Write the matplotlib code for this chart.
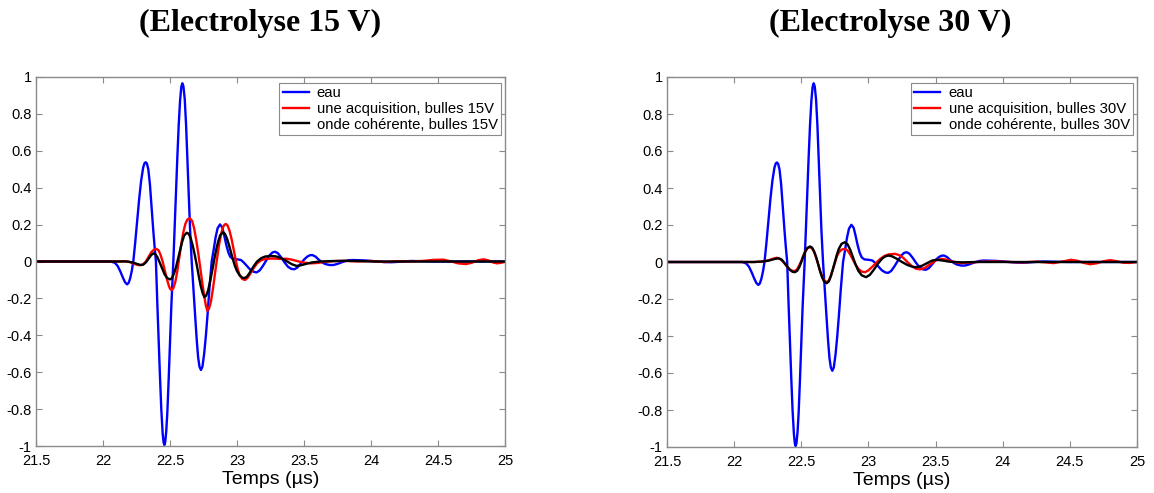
import matplotlib
matplotlib.use("Agg")
import matplotlib.pyplot as plt

# ---------------- data ----------------
# water reference signal (same in both panels)
t_eau = [21.50, 22.00, 22.06, 22.09, 22.11, 22.13, 22.15, 22.165, 22.18, 22.192,
         22.203, 22.215, 22.226, 22.24, 22.255, 22.27, 22.285, 22.30, 22.31, 22.319,
         22.328, 22.338, 22.35, 22.362, 22.375, 22.385, 22.395, 22.405, 22.415, 22.425,
         22.435, 22.445, 22.452, 22.458, 22.464, 22.472, 22.48, 22.49, 22.50, 22.51,
         22.525, 22.535, 22.545, 22.555, 22.565, 22.575, 22.584, 22.592, 22.60, 22.61,
         22.62, 22.63, 22.64, 22.65, 22.662, 22.675, 22.69, 22.70, 22.71, 22.72,
         22.731, 22.742, 22.755, 22.768, 22.78, 22.795, 22.811, 22.825, 22.84, 22.855,
         22.873, 22.89, 22.905, 22.92, 22.935, 22.95, 22.97, 23.00, 23.03, 23.05,
         23.075, 23.10, 23.125, 23.147, 23.17, 23.195, 23.22, 23.245, 23.265, 23.284,
         23.305, 23.33, 23.355, 23.38, 23.405, 23.428, 23.45, 23.475, 23.50, 23.525,
         23.545, 23.562, 23.585, 23.61, 23.635, 23.66, 23.69, 23.72, 23.75, 23.79,
         23.83, 23.86, 23.90, 23.95, 24.00, 24.05, 24.10, 24.15, 24.20, 24.30,
         24.40, 24.50, 25.00]
v_eau = [0.0, 0.0, 0.0, -0.008, -0.025, -0.055, -0.09, -0.113, -0.124, -0.115,
         -0.09, -0.05, 0.0, 0.10, 0.22, 0.34, 0.44, 0.51, 0.533, 0.538,
         0.53, 0.50, 0.42, 0.30, 0.17, 0.08, 0.0, -0.22, -0.42, -0.62,
         -0.80, -0.93, -0.98, -0.995, -0.98, -0.92, -0.82, -0.64, -0.44, -0.24,
         0.0, 0.19, 0.38, 0.57, 0.74, 0.87, 0.945, 0.966, 0.95, 0.88,
         0.74, 0.55, 0.36, 0.17, 0.0, -0.15, -0.32, -0.43, -0.52, -0.57,
         -0.588, -0.57, -0.50, -0.40, -0.29, -0.14, 0.0, 0.06, 0.13, 0.18,
         0.201, 0.185, 0.14, 0.09, 0.05, 0.025, 0.014, 0.012, 0.008, -0.005,
         -0.025, -0.045, -0.056, -0.059, -0.048, -0.022, 0.008, 0.035, 0.049, 0.053,
         0.045, 0.022, -0.005, -0.028, -0.04, -0.042, -0.033, -0.012, 0.01, 0.027,
         0.034, 0.035, 0.027, 0.01, -0.005, -0.014, -0.019, -0.019, -0.013, -0.002,
         0.006, 0.008, 0.007, 0.006, 0.003, 0.0, -0.003, -0.004, -0.002, 0.003,
         0.001, 0.0, 0.0]

# 15 V : single acquisition
t_acq15 = [21.50, 22.10, 22.16, 22.20, 22.23, 22.26, 22.28, 22.30, 22.32, 22.34,
           22.36, 22.38, 22.40, 22.415, 22.43, 22.445, 22.46, 22.475, 22.49, 22.50,
           22.513, 22.525, 22.54, 22.555, 22.57, 22.585, 22.60, 22.615, 22.63, 22.649,
           22.665, 22.68, 22.695, 22.71, 22.725, 22.74, 22.755, 22.768, 22.779, 22.79,
           22.805, 22.82, 22.835, 22.85, 22.865, 22.88, 22.895, 22.907, 22.918, 22.93,
           22.945, 22.96, 22.975, 22.99, 23.005, 23.02, 23.04, 23.06, 23.08, 23.10,
           23.125, 23.15, 23.18, 23.22, 23.27, 23.32, 23.37, 23.41, 23.45, 23.50,
           23.55, 23.60, 23.65, 23.72, 23.80, 23.90, 24.00, 24.10, 24.20, 24.30,
           24.40, 24.47, 24.54, 24.60, 24.65, 24.71, 24.76, 24.80, 24.84, 24.88,
           24.91, 24.94, 24.97, 25.00]
v_acq15 = [0.0, 0.0, 0.002, -0.003, -0.012, -0.019, -0.02, -0.015, 0.0, 0.025,
           0.05, 0.064, 0.068, 0.06, 0.035, 0.0, -0.045, -0.09, -0.128, -0.148,
           -0.155, -0.145, -0.11, -0.05, 0.025, 0.10, 0.16, 0.205, 0.228, 0.234,
           0.22, 0.18, 0.12, 0.05, -0.03, -0.11, -0.185, -0.24, -0.267, -0.258,
           -0.22, -0.15, -0.07, 0.01, 0.085, 0.145, 0.185, 0.20, 0.203, 0.195,
           0.165, 0.12, 0.065, 0.01, -0.04, -0.075, -0.095, -0.10, -0.088, -0.065,
           -0.035, -0.01, 0.007, 0.015, 0.016, 0.014, 0.015, 0.01, 0.002, -0.006,
           -0.01, -0.008, -0.002, 0.002, 0.003, 0.0, 0.003, -0.003, 0.002, 0.0,
           0.004, 0.009, 0.01, 0.0, -0.01, -0.014, -0.005, 0.007, 0.012, 0.005,
           -0.005, -0.01, -0.007, -0.002]

# 15 V : coherent wave
t_coh15 = [21.50, 22.10, 22.18, 22.22, 22.25, 22.28, 22.30, 22.32, 22.34, 22.36,
           22.376, 22.39, 22.405, 22.42, 22.44, 22.46, 22.48, 22.50, 22.515, 22.53,
           22.545, 22.56, 22.575, 22.59, 22.605, 22.625, 22.64, 22.655, 22.67, 22.685,
           22.70, 22.715, 22.73, 22.745, 22.757, 22.77, 22.785, 22.80, 22.815, 22.83,
           22.845, 22.86, 22.875, 22.895, 22.91, 22.925, 22.94, 22.955, 22.97, 22.985,
           23.00, 23.02, 23.04, 23.055, 23.075, 23.10, 23.125, 23.15, 23.18, 23.21,
           23.25, 23.29, 23.33, 23.37, 23.41, 23.445, 23.48, 23.52, 23.56, 23.62,
           23.70, 23.80, 23.90, 24.00, 25.00]
v_coh15 = [0.0, 0.0, 0.0, -0.005, -0.012, -0.019, -0.017, -0.005, 0.015, 0.035,
           0.044, 0.04, 0.025, 0.0, -0.035, -0.07, -0.09, -0.097, -0.09, -0.065,
           -0.03, 0.015, 0.06, 0.105, 0.14, 0.156, 0.15, 0.125, 0.085, 0.035,
           -0.02, -0.08, -0.135, -0.175, -0.193, -0.185, -0.155, -0.105, -0.05, 0.01,
           0.065, 0.11, 0.143, 0.158, 0.15, 0.125, 0.09, 0.05, 0.01, -0.025,
           -0.052, -0.075, -0.088, -0.09, -0.082, -0.055, -0.025, 0.0, 0.018, 0.027,
           0.03, 0.028, 0.018, 0.002, -0.015, -0.024, -0.02, -0.012, -0.005, 0.0,
           0.002, 0.004, 0.003, 0.0, 0.0]

# 30 V : single acquisition
t_acq30 = [21.50, 22.15, 22.22, 22.26, 22.29, 22.317, 22.34, 22.36, 22.38, 22.40,
           22.42, 22.446, 22.465, 22.48, 22.50, 22.515, 22.53, 22.545, 22.565, 22.58,
           22.595, 22.61, 22.625, 22.64, 22.655, 22.67, 22.689, 22.705, 22.72, 22.735,
           22.75, 22.765, 22.78, 22.80, 22.825, 22.845, 22.865, 22.885, 22.905, 22.925,
           22.95, 22.975, 23.00, 23.03, 23.06, 23.09, 23.12, 23.15, 23.198, 23.23,
           23.26, 23.29, 23.32, 23.35, 23.384, 23.42, 23.46, 23.50, 23.545, 23.58,
           23.62, 23.68, 23.75, 23.85, 23.95, 24.05, 24.15, 24.25, 24.32, 24.38,
           24.44, 24.51, 24.56, 24.60, 24.65, 24.70, 24.75, 24.80, 24.85, 24.90,
           24.94, 25.00]
v_acq30 = [0.0, 0.0, 0.003, 0.01, 0.018, 0.023, 0.018, 0.005, -0.012, -0.03,
           -0.044, -0.05, -0.043, -0.025, 0.005, 0.035, 0.058, 0.074, 0.08, 0.074,
           0.055, 0.025, -0.01, -0.048, -0.078, -0.10, -0.109, -0.10, -0.075, -0.04,
           -0.005, 0.03, 0.052, 0.067, 0.071, 0.062, 0.04, 0.012, -0.015, -0.037,
           -0.052, -0.055, -0.045, -0.025, -0.002, 0.018, 0.033, 0.041, 0.044, 0.037,
           0.022, 0.0, -0.02, -0.035, -0.04, -0.032, -0.012, 0.008, 0.017, 0.013,
           0.003, -0.006, -0.003, 0.002, 0.003, 0.0, -0.002, 0.002, -0.002, -0.006,
           0.002, 0.012, 0.006, -0.004, -0.012, -0.007, 0.004, 0.01, 0.004, -0.004,
           -0.005, 0.0]

# 30 V : coherent wave
t_coh30 = [21.50, 22.15, 22.22, 22.26, 22.30, 22.33, 22.355, 22.375, 22.395, 22.415,
           22.435, 22.453, 22.47, 22.485, 22.50, 22.515, 22.53, 22.545, 22.565, 22.58,
           22.595, 22.61, 22.625, 22.64, 22.655, 22.67, 22.689, 22.705, 22.72, 22.735,
           22.75, 22.765, 22.78, 22.80, 22.825, 22.845, 22.865, 22.885, 22.905, 22.925,
           22.95, 22.982, 23.01, 23.04, 23.07, 23.10, 23.125, 23.148, 23.175, 23.21,
           23.25, 23.29, 23.33, 23.36, 23.40, 23.44, 23.475, 23.508, 23.55, 23.60,
           23.70, 23.80, 24.00, 25.00]
v_coh30 = [0.0, 0.0, 0.003, 0.008, 0.016, 0.02, 0.012, -0.005, -0.025, -0.042,
           -0.053, -0.055, -0.047, -0.028, 0.0, 0.03, 0.057, 0.076, 0.084, 0.078,
           0.058, 0.028, -0.01, -0.05, -0.083, -0.105, -0.115, -0.105, -0.077, -0.04,
           0.0, 0.04, 0.072, 0.098, 0.107, 0.095, 0.065, 0.025, -0.015, -0.048,
           -0.072, -0.082, -0.07, -0.042, -0.01, 0.017, 0.03, 0.035, 0.031, 0.018,
           0.0, -0.016, -0.026, -0.028, -0.02, -0.005, 0.008, 0.012, 0.008, 0.002,
           -0.002, 0.0, 0.0, 0.0]

titles = ["(Electrolyse 15 V)", "(Electrolyse 30 V)"]
labels_15 = ["eau", "une acquisition, bulles 15V", "onde cohérente, bulles 15V"]
labels_30 = ["eau", "une acquisition, bulles 30V", "onde cohérente, bulles 30V"]
xticks = [21.5, 22, 22.5, 23, 23.5, 24, 24.5, 25]
xticklabels = ["21.5", "22", "22.5", "23", "23.5", "24", "24.5", "25"]
yticks = [-1, -0.8, -0.6, -0.4, -0.2, 0, 0.2, 0.4, 0.6, 0.8, 1]
yticklabels = ["-1", "-0.8", "-0.6", "-0.4", "-0.2", "0", "0.2", "0.4", "0.6", "0.8", "1"]
xlabel = "Temps (µs)"

# ---------------- figure ----------------
W, H = 1154, 493
fig = plt.figure(figsize=(W / 100, H / 100), dpi=100)
plt.rcParams['font.family'] = ['Liberation Sans', 'DejaVu Sans']

panels = [
    dict(box=(36, 77, 505, 446), title_x=260,
         series=[(t_eau, v_eau), (t_acq15, v_acq15), (t_coh15, v_coh15)],
         labels=labels_15, title=titles[0]),
    dict(box=(667, 77, 1137, 447), title_x=890,
         series=[(t_eau, v_eau), (t_acq30, v_acq30), (t_coh30, v_coh30)],
         labels=labels_30, title=titles[1]),
]
colors = ["#0000ff", "#ff0000", "#000000"]
spine_col = "#8a8a8a"

for p in panels:
    x0, y0, x1, y1 = p["box"]
    ax = fig.add_axes([x0 / W, 1 - y1 / H, (x1 - x0) / W, (y1 - y0) / H])
    for (t, v), c, lab in zip(p["series"], colors, p["labels"]):
        ax.plot(t, v, color=c, lw=1.7, label=lab, solid_joinstyle="round")
    ax.set_xlim(21.5, 25)
    ax.set_ylim(-1, 1)
    ax.set_xticks(xticks)
    ax.set_xticklabels(xticklabels)
    ax.set_yticks(yticks)
    ax.set_yticklabels(yticklabels)
    ax.tick_params(direction="in", length=4, width=0.8, color=spine_col,
                   top=True, right=True, labelsize=10.5)
    ax.tick_params(axis="x", pad=6)
    ax.tick_params(axis="y", pad=3)
    for s in ax.spines.values():
        s.set_color(spine_col)
        s.set_linewidth(1.0)
    ax.set_xlabel(xlabel, fontsize=14, labelpad=2)
    leg = ax.legend(loc="upper right", bbox_to_anchor=(1 - 4 / 469, 1 - 5.7 / 369),
                    borderaxespad=0, fontsize=10.7, handlelength=1.75,
                    handletextpad=0.55, labelspacing=0.12, borderpad=0.22,
                    fancybox=False, framealpha=1, edgecolor=spine_col)
    leg.get_frame().set_linewidth(0.8)
    fig.text(p["title_x"] / W, 1 - 23 / H, p["title"], ha="center", va="center",
             fontsize=23, fontweight="bold", family="Liberation Serif")

fig.savefig("out.png", dpi=100)
